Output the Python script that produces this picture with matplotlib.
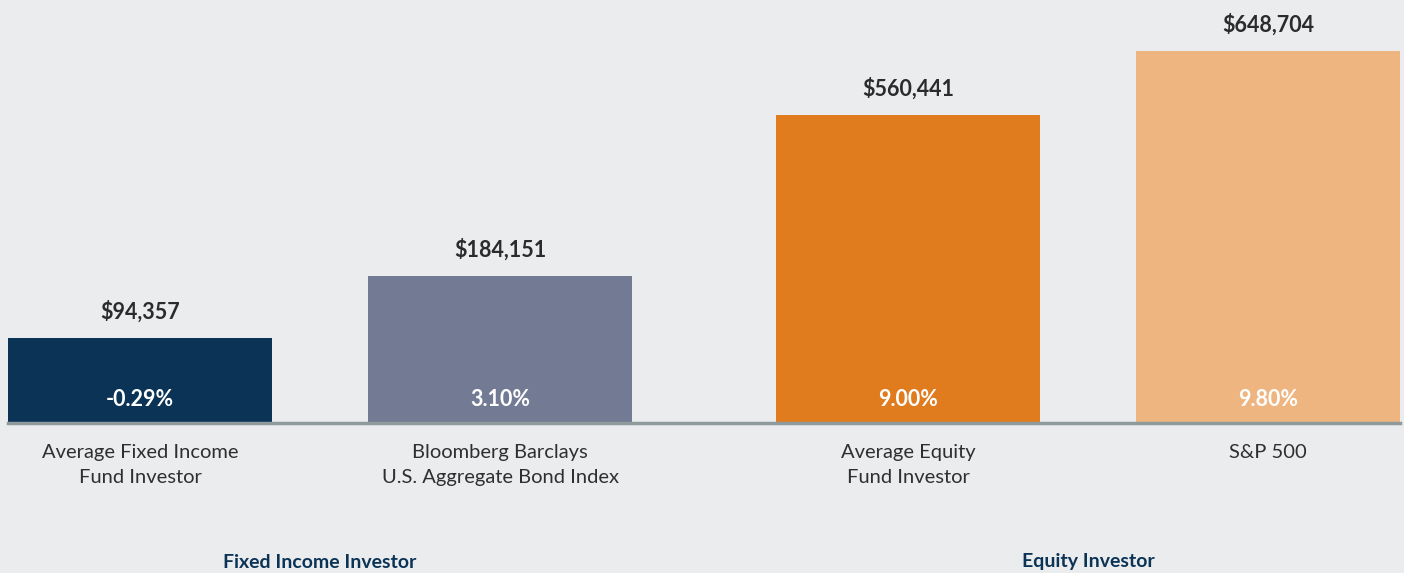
import numpy as np
import matplotlib.pyplot as plt

# categories and values
categories = ["Average Fixed Income\nFund Investor",
              "Bloomberg Barclays\nU.S. Aggregate Bond Index",
              "Average Equity\nFund Investor",
              "S&P 500"]
ending_values = [94357, 184151, 560441, 648704]
returns = ["-0.29%", "3.10%", "9.00%", "9.80%"]
# bar heights as drawn in the original (not proportional to ending values)
bar_heights = [146900, 255300, 536800, 648704]
groups = ["Fixed Income Investor", "Equity Investor"]

colors = ["#0B3356", "#737A94", "#E07B1E", "#EFB580"]
bg = "#EBECEE"

plt.rcParams['font.family'] = ['Lato', 'DejaVu Sans']

fig = plt.figure(figsize=(14.04, 5.73), dpi=100, facecolor=bg)
ax = fig.add_axes([0, 151 / 573, 1, 422 / 573])
ax.set_facecolor(bg)

# bar centres in units of one bar pitch (gaps 96 / 144 / 96 px, width 264 px)
x_pos = np.array([0, 1, 1 + 408 / 360, 2 + 408 / 360])
width = 264 / 360
ax.bar(x_pos, bar_heights, width=width, color=colors, zorder=2)
ax.set_xlim(x_pos[0] - 132 / 360 - 8 / 360, x_pos[-1] + 132 / 360 + 4 / 360)
pt = 648704 / 371  # data units per pixel
ax.set_ylim(0, 422 * pt)
ax.axhline(-1 * pt, xmin=8 / 1404, xmax=1400 / 1404, color="#8F9A9C",
           lw=2.5, zorder=3, clip_on=False)
for s in ax.spines.values():
    s.set_visible(False)
ax.set_xticks([])
ax.set_yticks([])

for x, h, v, r in zip(x_pos, bar_heights, ending_values, returns):
    ax.text(x, h + 26 * pt, f"${v:,}", ha="center", va="center",
            fontsize=15.5, fontweight="bold", color="#2B2B2B")
    ax.text(x, 23 * pt, r, ha="center", va="center",
            fontsize=15.5, fontweight="bold", color="white")

for x, cat in zip(x_pos, categories):
    ax.text(x, -22 * pt, cat, ha="center", va="top", fontsize=14.5,
            color="#2F2F2F", linespacing=1.55, clip_on=False)

group_x = [(x_pos[0] + x_pos[1]) / 2, (x_pos[2] + x_pos[3]) / 2]
for gx, g in zip(group_x, groups):
    ax.text(gx, -140 * pt, g, ha="center", va="center", fontsize=14,
            fontweight="bold", color="#0B3356", clip_on=False)

fig.savefig("out.png", dpi=100, facecolor=bg)
